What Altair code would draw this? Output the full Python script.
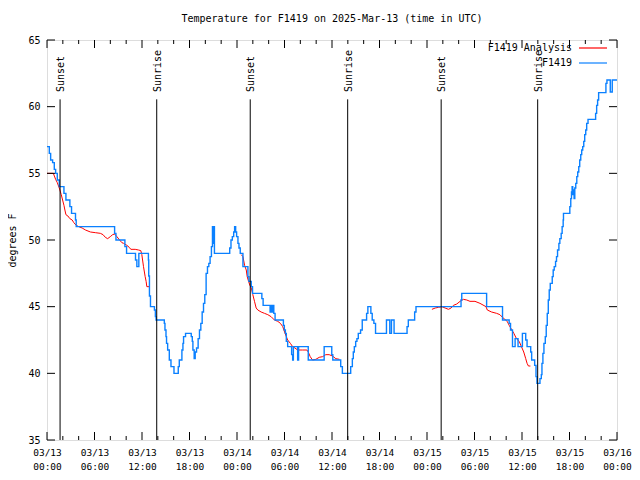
import altair as alt
import pandas as pd

FONT = "DejaVu Sans Mono"

# ---- observed series F1419 (step changes): hours since 03/13 00:00 UTC, deg F
obs_hours = [0.00, 0.29, 0.46, 0.71, 0.92, 1.09, 1.30, 1.55, 2.14, 2.39, 2.89, 3.10, 3.60, 3.69,
             8.54, 8.71, 9.84, 10.05, 11.18, 11.35, 11.60, 12.81, 12.85, 12.94, 13.07, 13.57, 13.69,
             13.78, 14.82, 14.90, 15.03, 15.10, 15.24, 15.45, 15.66, 16.04, 16.58, 16.71, 17.04,
             17.17, 17.25, 17.50, 18.22, 18.35, 18.43, 18.59, 18.72, 18.89, 19.09, 19.26, 19.43,
             19.60, 19.77, 19.93, 20.10, 20.27, 20.44, 20.60, 20.77, 20.90, 20.98, 21.06, 21.15,
             23.08, 23.24, 23.41, 23.58, 23.70, 23.83, 23.95, 24.12, 24.25, 24.41, 24.75, 25.38,
             25.50, 25.80, 25.96, 27.14, 27.30, 28.18, 28.35, 28.45, 28.56, 28.65, 28.81, 29.86,
             29.98, 30.11, 30.23, 30.40, 30.90, 31.03, 31.12, 31.66, 31.78, 33.00, 35.01, 35.97,
             36.10, 37.10, 37.31, 38.36, 38.57, 38.69, 38.82, 38.99, 39.15, 39.32, 39.61, 39.82,
             40.37, 40.53, 40.91, 41.08, 41.29, 41.50, 42.88, 43.30, 43.51, 43.84, 45.48, 45.64,
             46.44, 46.61, 52.30, 52.39, 55.53, 57.54, 58.38, 58.55, 58.80, 59.13, 59.50, 60.05,
             60.47, 60.64, 61.10, 61.22, 61.60, 61.77, 61.89, 62.27, 62.44, 62.52, 62.64, 62.77,
             62.94, 63.06, 63.19, 63.32, 63.44, 63.57, 63.82, 63.94, 64.07, 64.24, 64.36, 64.49,
             64.66, 64.78, 64.95, 65.07, 65.20, 65.24, 66.04, 66.16, 66.25, 66.33, 66.41, 66.50,
             66.58, 66.67, 66.79, 66.92, 67.04, 67.17, 67.29, 67.42, 67.54, 67.67, 67.80, 67.92,
             68.05, 68.17, 68.34, 69.30, 69.43, 69.55, 69.68, 70.60, 70.73, 71.15, 71.40, 72.00]
obs_temps = [57.0, 56.5, 56.0, 55.8, 55.3, 55.0, 54.5, 54.0, 53.5, 53.0, 52.5, 52.0, 51.5, 51.0,
             50.5, 50.0, 49.5, 49.0, 48.5, 48.0, 49.0, 48.5, 47.3, 45.8, 45.0, 44.75, 44.25,
             44.0, 43.75, 43.25, 42.75, 42.25, 41.75, 41.0, 40.5, 40.0, 40.5, 41.0, 41.75,
             42.25, 42.75, 43.0, 42.75, 42.4, 41.75, 41.1, 41.6, 41.9, 42.6, 43.25, 43.75,
             44.6, 45.25, 45.9, 47.5, 48.0, 48.25, 48.75, 49.5, 51.0, 49.75, 51.0, 49.0,
             49.4, 50.0, 50.25, 50.6, 51.0, 50.6, 50.25, 49.75, 49.4, 49.0, 48.0, 47.25,
             46.9, 46.5, 46.0, 45.6, 45.1, 44.6, 45.1, 44.6, 45.1, 44.5, 44.0, 43.6,
             43.25, 43.0, 42.4, 42.0, 41.4, 41.0, 42.0, 41.0, 42.0, 41.0, 42.0, 41.4,
             41.0, 40.5, 40.0, 40.5, 41.1, 41.6, 42.0, 42.4, 42.6, 43.0, 43.25, 44.0,
             44.5, 45.0, 44.5, 44.0, 43.75, 43.0, 44.0, 43.0, 44.0, 43.0, 43.5, 44.0,
             44.6, 45.0, 45.5, 46.0, 45.0, 44.0, 43.75, 43.25, 42.0, 42.6, 42.0, 43.0,
             42.5, 42.0, 41.6, 41.0, 40.6, 39.75, 39.25, 39.6, 39.9, 40.75, 41.5, 42.25,
             42.75, 43.6, 44.5, 45.5, 46.25, 46.75, 47.25, 47.75, 48.0, 48.4, 48.75, 49.25,
             49.75, 50.1, 50.5, 51.0, 51.5, 52.0, 52.5, 53.1, 53.6, 54.0, 53.4, 53.75,
             53.1, 53.9, 54.25, 54.75, 55.1, 55.5, 56.0, 56.4, 56.75, 57.0, 57.4, 57.9,
             58.25, 58.75, 59.05, 59.5, 60.1, 60.5, 61.05, 61.75, 62.0, 61.1, 62.0, 62.0]

# ---- analysis series F1419 Analysis (three separate runs)
ana1_hours = [0.00, 0.80, 1.09, 1.30, 1.55, 1.80, 1.97, 2.14, 2.26, 2.39, 2.64, 2.89, 3.18, 3.39,
              3.69, 4.02, 4.44, 4.86, 5.49, 6.11, 6.74, 7.08, 7.37, 7.66, 7.99, 8.29, 8.54, 8.83,
              9.17, 9.46, 9.67, 10.09, 10.39, 10.59, 11.14, 11.56, 11.85, 11.98, 12.19, 12.40,
              12.52, 12.61, 12.94]
ana1_temps = [55.0, 55.0, 54.55, 54.3, 53.9, 53.4, 53.0, 52.6, 52.25, 51.9, 51.8, 51.6, 51.5, 51.3,
              51.1, 51.0, 50.9, 50.75, 50.6, 50.55, 50.5, 50.4, 50.2, 50.1, 50.25, 50.4, 50.45, 50.25,
              50.0, 49.8, 49.75, 49.6, 49.45, 49.3, 49.3, 49.25, 49.2, 48.9, 48.0, 47.25,
              46.9, 46.5, 46.5]
ana2_hours = [24.54, 24.75, 24.96, 25.17, 25.29, 25.46, 25.63, 25.80, 26.00, 26.21, 26.42, 26.63,
              27.05, 27.47, 27.89, 28.31, 28.73, 29.15, 29.48, 29.78, 30.07, 30.40, 30.74, 31.03,
              31.32, 31.66, 32.29, 32.83, 33.00, 33.25, 33.54, 33.96, 34.38, 34.80, 35.22, 35.64,
              36.06, 36.48, 36.95]
ana2_temps = [48.9, 48.75, 48.1, 47.75, 47.25, 46.9, 46.6, 46.4, 45.9, 45.4, 44.9, 44.75,
              44.6, 44.5, 44.4, 44.25, 44.0, 43.9, 43.75, 43.5, 43.0, 42.5, 42.25, 42.0,
              41.9, 41.75, 41.75, 41.75, 41.6, 41.25, 41.0, 41.05, 41.2, 41.25, 41.4, 41.4,
              41.3, 41.1, 41.05]
ana3_hours = [48.62, 49.04, 49.45, 49.87, 50.29, 50.71, 51.04, 51.34, 51.76, 52.18, 52.60, 53.02,
              53.43, 54.06, 54.69, 55.45, 55.62, 56.16, 56.79, 57.21, 57.54, 57.83, 58.13, 58.38,
              58.67, 58.97, 59.30, 59.64, 59.93, 60.22, 60.47, 60.64, 60.81, 61.06]
ana3_temps = [44.8, 44.9, 44.95, 45.0, 44.9, 44.8, 44.9, 45.1, 45.2, 45.4, 45.55, 45.5,
              45.4, 45.4, 45.25, 45.0, 44.75, 44.6, 44.5, 44.4, 44.2, 44.05, 43.9, 43.6,
              43.3, 43.0, 42.6, 42.4, 42.0, 41.6, 41.1, 40.75, 40.55, 40.55]

# ---- sun events
event_hours = [1.65, 13.86, 25.67, 37.98, 49.79, 61.98]
event_labels = ["Sunset", "Sunrise", "Sunset", "Sunrise", "Sunset", "Sunrise"]

series_names = ["F1419 Analysis", "F1419"]
series_colors = ["#ff0000", "#0a80ff"]

x_major = list(range(0, 73, 6))
x_minor = [h for h in range(0, 73, 2) if h % 6 != 0]
y_major = [35, 40, 45, 50, 55, 60, 65]

W, H = 570, 400

obs = pd.DataFrame({"h": obs_hours, "v": obs_temps})
ana = pd.concat([
    pd.DataFrame({"h": ana1_hours, "v": ana1_temps, "seg": 1}),
    pd.DataFrame({"h": ana2_hours, "v": ana2_temps, "seg": 2}),
    pd.DataFrame({"h": ana3_hours, "v": ana3_temps, "seg": 3}),
])
events = pd.DataFrame({"h": event_hours, "label": event_labels,
                       "v": [60.55] * len(event_hours), "lab": [61.1] * len(event_hours),
                       "bot": [35] * len(event_hours)})

xs = alt.Scale(domain=[0, 72], nice=False, zero=False)
ys = alt.Scale(domain=[35, 65], nice=False, zero=False)

label_expr = ("['03/' + format(13 + floor(datum.value / 24), '02d'), "
              "format(datum.value % 24, '02d') + ':00']")

x_axis = alt.Axis(values=x_major, labelExpr=label_expr, title=None, grid=False, ticks=False,
                  domain=False, labelFont=FONT, labelFontSize=9.5, labelColor="black",
                  labelPadding=7, labelLineHeight=14, labelFlush=False, labelOverlap=False)
y_axis = alt.Axis(values=y_major, title="degrees F", grid=False, ticks=False, domain=False,
                  labelFont=FONT, labelFontSize=10, labelColor="black", labelPadding=7,
                  titleFont=FONT, titleFontSize=10, titleFontWeight="normal", titleColor="black",
                  titlePadding=10, labelFlush=False)

X = alt.X("h:Q", scale=xs, axis=x_axis)
Y = alt.Y("v:Q", scale=ys, axis=y_axis)

red_line = alt.Chart(ana).mark_line(color=series_colors[0], strokeWidth=1).encode(
    x=X, y=Y, detail="seg:N",
)
blue_line = alt.Chart(obs).mark_line(color=series_colors[1], strokeWidth=1.4,
                                     interpolate="step-after").encode(x=X, y=Y)
ev_rules = alt.Chart(events).mark_rule(color="black", strokeWidth=1).encode(
    x=X, y=Y, y2="bot:Q",
)
ev_text = alt.Chart(events).mark_text(angle=270, align="left", baseline="middle", font=FONT,
                                      fontSize=10, color="black", dy=1).encode(
    x=X, y=alt.Y("lab:Q", scale=ys, axis=y_axis), text="label:N",
)

# tick marks (inward, gnuplot style)
xmaj = pd.DataFrame({"h": x_major})
xmin = pd.DataFrame({"h": x_minor})
ymaj = pd.DataFrame({"v": y_major})
tick_layers = []
for df, ln in [(xmaj, 8), (xmin, 4)]:
    tick_layers.append(alt.Chart(df).mark_rule(color="black").encode(
        x=X, y=alt.value(H), y2=alt.value(H - ln)))
    tick_layers.append(alt.Chart(df).mark_rule(color="black").encode(
        x=X, y=alt.value(0), y2=alt.value(ln)))
tick_layers.append(alt.Chart(ymaj).mark_rule(color="black").encode(
    y=Y, x=alt.value(0), x2=alt.value(8)))
tick_layers.append(alt.Chart(ymaj).mark_rule(color="black").encode(
    y=Y, x=alt.value(W - 8), x2=alt.value(W)))

# key (label on the left, line sample on the right)
key_layers = []
for i, (name, col) in enumerate(zip(series_names, series_colors)):
    kd = pd.DataFrame({"name": [name]})
    yy = 8 + 15 * i
    key_layers.append(alt.Chart(kd).mark_text(align="right", baseline="middle", font=FONT,
                                              fontSize=10, color="black").encode(
        x=alt.value(W - 45), y=alt.value(yy), text="name:N"))
    key_layers.append(alt.Chart(kd).mark_rule(color=col, strokeWidth=1.2).encode(
        x=alt.value(W - 38), x2=alt.value(W - 10), y=alt.value(yy)))

chart = alt.layer(red_line, blue_line, ev_rules, ev_text, *tick_layers, *key_layers).properties(
    width=W, height=H,
    title=alt.TitleParams("Temperature for F1419 on 2025-Mar-13 (time in UTC)", font=FONT,
                          fontSize=10, fontWeight="normal", color="black", anchor="middle",
                          offset=11),
    autosize=alt.AutoSizeParams(type="none"),
    padding={"left": 39, "top": 32, "right": 15, "bottom": 32},
).configure_view(stroke="black", strokeWidth=1).configure(background="white")

chart.save("out.html", embed_options={"renderer": "svg", "actions": False})
